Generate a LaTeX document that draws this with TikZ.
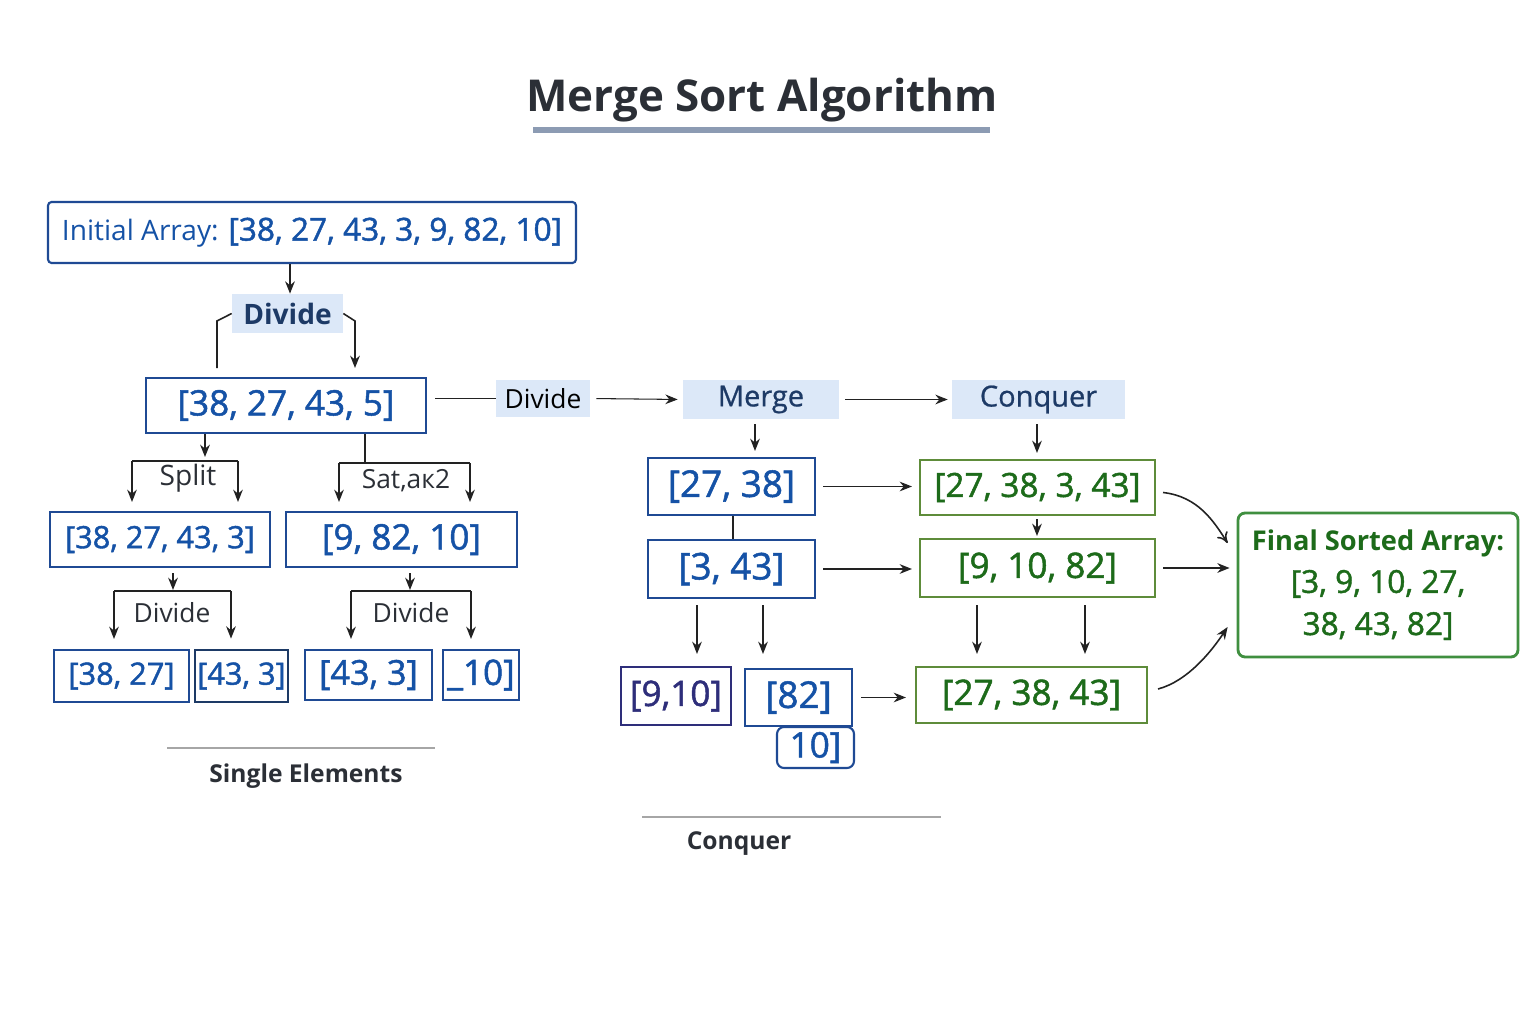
\documentclass[tikz,border=0pt]{standalone}
\usepackage{fontspec}
\setmainfont{Open Sans}
\newfontfamily\semiopen[FakeBold=1.4]{Open Sans}
\newfontfamily\mediopen[FakeBold=0.7]{Open Sans}
\usepackage{tikz}
\usetikzlibrary{calc,positioning,arrows.meta}
\definecolor{msTitle}{HTML}{2B2F36}
\definecolor{msRule}{HTML}{8C9BB3}
\definecolor{msBlue}{HTML}{1F4A94}
\definecolor{msBlueTxt}{HTML}{1552A6}
\definecolor{msNavy}{HTML}{1D3A66}
\definecolor{msPurple}{HTML}{2E2E7A}
\definecolor{msFill}{HTML}{DCE8F8}
\definecolor{msGreen}{HTML}{5E8C3A}
\definecolor{msGreenTxt}{HTML}{1D6B1A}
\definecolor{msFinal}{HTML}{3F8F3F}
\definecolor{msArrow}{HTML}{222222}

\begin{document}
\begin{tikzpicture}[x=0.02cm,y=-0.02cm,
  bx/.style={draw=msBlue,line width=1.2pt,fill=white,text=msBlueTxt,inner sep=0pt,
             font=\semiopen\fontsize{20}{24}\selectfont},
  gbx/.style={bx,draw=msGreen,text=msGreenTxt},
  lbl/.style={fill=msFill,text=msNavy,inner sep=0pt,font=\mediopen\fontsize{16.5}{20}\selectfont},
  txt/.style={text=msTitle,font=\fontsize{15}{18}\selectfont},
  a/.style={-{Stealth[length=7pt,width=5.5pt]},draw=msArrow,line width=0.9pt},
  ln/.style={draw=msArrow,line width=0.9pt}]
  \useasboundingbox[fill=white] (0,0) rectangle (1536,1024);

  % title
  \node[text=msTitle,font=\fontsize{25}{30}\selectfont\bfseries] (ttl) at (762,100) {Merge Sort Algorithm};
  \draw[msRule,line width=3pt] (533,130) -- (990,130);

  % divide side
  \node[bx,minimum width=10.56cm,minimum height=1.22cm,rounded corners=2pt,
        font=\rmfamily\fontsize{16}{20}\selectfont] (init) at (312,232.5)
        {Initial Array: {\semiopen\fontsize{18}{22}\selectfont [38, 27, 43, 3, 9, 82, 10]}};
  \node[lbl,minimum width=2.22cm,minimum height=0.78cm,font=\fontsize{16}{20}\selectfont\bfseries] (divA) at (287.5,313.5) {Divide};
  \node[bx,minimum width=5.6cm,minimum height=1.1cm] (arrA) at (286,405.5) {[38, 27, 43, 5]};
  \node[bx,minimum width=4.4cm,minimum height=1.1cm,font=\semiopen\fontsize{17.5}{22}\selectfont] (arrB1) at (160,539.5) {[38, 27, 43, 3]};
  \node[bx,minimum width=4.62cm,minimum height=1.1cm] (arrB2) at (401.5,539.5) {[9, 82, 10]};
  \node[bx,minimum width=2.7cm,minimum height=1.04cm,font=\semiopen\fontsize{17.5}{22}\selectfont] (arrC1) at (121.5,676) {[38, 27]};
  \node[bx,minimum width=1.86cm,minimum height=1.04cm,draw=msNavy,line width=1.6pt,
        font=\semiopen\fontsize{17.5}{22}\selectfont] (arrC2) at (241.5,676) {[43, 3]};
  \node[bx,minimum width=2.54cm,minimum height=1.0cm,font=\semiopen\fontsize{19.5}{22}\selectfont] (arrC3) at (368.5,675) {[43, 3]};
  \node[bx,minimum width=1.52cm,minimum height=1.0cm] (arrC4) at (481,675) {\_10]};

  \node[txt,font=\fontsize{16}{20}\selectfont] (split) at (188,478) {Split};
  \node[txt] (splitB) at (406,481) {Sat,aк2};
  \node[txt] (divB1) at (172,613) {Divide};
  \node[txt] (divB2) at (411,613) {Divide};
  \node[txt,font=\fontsize{14}{18}\selectfont\bfseries] (single) at (306,776) {Single Elements};
  \draw[gray!70,line width=0.6pt] (167,748) -- (435,748);

  \draw[a] (init.south -| 290,0) -- (divA.north -| 290,0);
  \draw[ln] (divA.west) -- (217,321) -- (217,368);
  \draw[a] (divA.east) -- (355,321) -- (355,368);
  \draw[a] (arrA.south -| 205,0) -- (205,457);
  \draw[ln] (arrA.south -| 365,0) -- (365,462);
  \draw[ln] (132,461) -- (238,461);
  \draw[a,shorten >=0.18cm] (132,461) -- (arrB1.north -| 132,0);
  \draw[a,shorten >=0.18cm] (238,461) -- (arrB1.north -| 238,0);
  \draw[ln] (339,463) -- (470,463);
  \draw[a,shorten >=0.18cm] (339,463) -- (arrB2.north -| 339,0);
  \draw[a,shorten >=0.18cm] (470,463) -- (arrB2.north -| 470,0);
  \draw[a,shorten <=0.1cm] (arrB1.south -| 173,0) -- (173,590);
  \draw[ln] (114,591) -- (231,591);
  \draw[a,shorten >=0.2cm] (114,591) -- (arrC1.north -| 114,0);
  \draw[a,shorten >=0.2cm] (231,591) -- (arrC2.north -| 231,0);
  \draw[a,shorten <=0.1cm] (arrB2.south -| 410,0) -- (410,590);
  \draw[ln] (351,591) -- (471,591);
  \draw[a,shorten >=0.2cm] (351,591) -- (arrC3.north -| 351,0);
  \draw[a,shorten >=0.2cm] (471,591) -- (arrC4.north -| 471,0);

  % merge / conquer side
  \node[lbl,minimum width=1.88cm,minimum height=0.74cm,text=black,font=\fontsize{15}{18}\selectfont] (divR) at (543,398.5) {Divide};
  \node[lbl,minimum width=3.12cm,minimum height=0.78cm] (merge) at (761,399.5) {Merge};
  \node[lbl,minimum width=3.46cm,minimum height=0.78cm] (conq) at (1038.5,399.5) {Conquer};

  \node[bx,minimum width=3.34cm,minimum height=1.14cm,font=\semiopen\fontsize{21}{24}\selectfont] (mrg1) at (731.5,486.5) {[27, 38]};
  \node[bx,minimum width=3.34cm,minimum height=1.16cm,font=\semiopen\fontsize{21}{24}\selectfont] (mrg2) at (731.5,569) {[3, 43]};
  \node[bx,minimum width=2.2cm,minimum height=1.16cm,draw=msPurple,text=msPurple] (mrg3) at (676,696) {[9,10]};
  \node[bx,minimum width=2.14cm,minimum height=1.14cm,font=\semiopen\fontsize{21}{24}\selectfont] (mrg4) at (798.5,697.5) {[82]};
  \node[bx,minimum width=1.54cm,minimum height=0.82cm,rounded corners=4pt] (mrg5) at (815.5,747.5) {10]};

  \node[gbx,minimum width=4.7cm,minimum height=1.1cm,font=\semiopen\fontsize{19}{24}\selectfont] (cnq1) at (1037.5,487.5) {[27, 38, 3, 43]};
  \node[gbx,minimum width=4.7cm,minimum height=1.16cm] (cnq2) at (1037.5,568) {[9, 10, 82]};
  \node[gbx,minimum width=4.62cm,minimum height=1.12cm] (cnq3) at (1031.5,695) {[27, 38, 43]};
  \node[bx,draw=msFinal,text=msGreenTxt,line width=1.6pt,rounded corners=4pt,
        minimum width=5.6cm,minimum height=2.88cm,align=center,
        font=\semiopen\fontsize{18}{24}\selectfont] (final) at (1378,585)
        {{\rmfamily\fontsize{15.5}{24}\selectfont\bfseries Final Sorted Array:}\\{}[3, 9, 10, 27,\\ 38, 43, 82]};

  \node[txt,font=\fontsize{14}{18}\selectfont\bfseries] (conqB) at (739,844) {Conquer};
  \draw[gray!70,line width=0.6pt] (642,817) -- (941,817);

  \draw[ln,shorten <=0.16cm] (arrA.east |- divR.west) -- (divR.west);
  \draw[a,line width=0.6pt,shorten <=0.12cm,shorten >=0.1cm] (divR.east) -- (merge.west);
  \draw[a,shorten <=0.12cm,shorten >=0.08cm] (merge.east) -- (conq.west);
  \draw[a,shorten <=0.1cm,shorten >=0.12cm] (merge.south -| 755,0) -- (mrg1.north -| 755,0);
  \draw[a,shorten <=0.1cm,shorten >=0.12cm] (conq.south -| 1037,0) -- (cnq1.north -| 1037,0);
  \draw[ln] (mrg1.south -| 733,0) -- (mrg2.north -| 733,0);
  \draw[a,shorten <=0.12cm,shorten >=0.24cm] (mrg2.south -| 697,0) -- (mrg3.north -| 697,0);
  \draw[a,shorten <=0.12cm,shorten >=0.28cm] (mrg2.south -| 763,0) -- (mrg4.north -| 763,0);
  \draw[a,shorten <=0.14cm,shorten >=0.14cm] (mrg1.east) -- (cnq1.west |- mrg1.east);
  \draw[a,shorten <=0.14cm,shorten >=0.14cm] (mrg2.east) -- (cnq2.west |- mrg2.east);
  \draw[a,shorten <=0.16cm,shorten >=0.18cm] (mrg4.east) -- (cnq3.west |- mrg4.east);
  \draw[a,shorten <=0.06cm,shorten >=0.04cm] (cnq1.south -| 1037,0) -- (cnq2.north -| 1037,0);
  \draw[a,shorten <=0.14cm,shorten >=0.24cm] (cnq2.south -| 977,0) -- (cnq3.north -| 977,0);
  \draw[a,shorten <=0.14cm,shorten >=0.24cm] (cnq2.south -| 1085,0) -- (cnq3.north -| 1085,0);
  \draw[a,shorten <=0.14cm,shorten >=0.14cm] (cnq2.east) -- (final.west |- cnq2.east);
  \draw[a,-{To[length=6pt,width=7pt]}] ([xshift=0.14cm,yshift=-0.1cm]cnq1.east)
    .. controls +(35,4) and +(-14,-22) .. ([xshift=-0.18cm,yshift=0.84cm]final.west);
  \draw[a] ([xshift=0.2cm,yshift=0.12cm]cnq3.east)
    .. controls +(30,-8) and +(-16,24) .. ([xshift=-0.18cm,yshift=-0.84cm]final.west);
\end{tikzpicture}
\end{document}
